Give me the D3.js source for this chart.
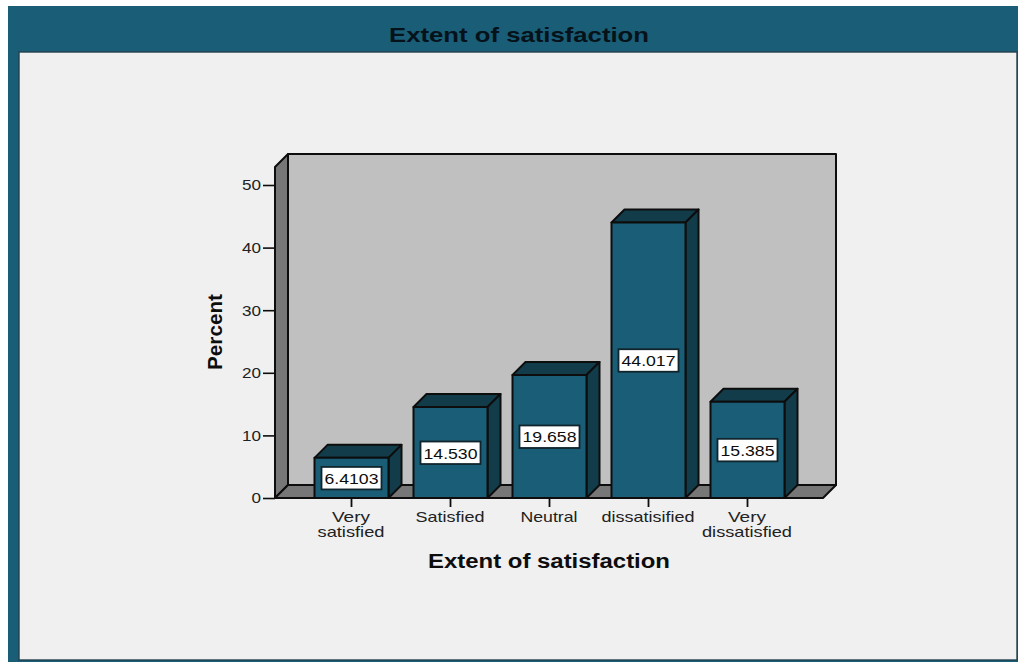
<!DOCTYPE html>
<html>
<head>
<meta charset="utf-8">
<script src="https://cdn.jsdelivr.net/npm/d3@7"></script>
<style>
html,body{margin:0;padding:0;background:#fff}
svg{display:block}
text{font-family:"Liberation Sans",Arial,sans-serif}
</style>
</head>
<body>
<svg id="chart" width="1018" height="662"></svg>
<script>
// Percent of respondents per satisfaction level
const categories = ["Very satisfied", "Satisfied", "Neutral", "dissatisified", "Very dissatisfied"];
const categoryLines = [["Very", "satisfied"], ["Satisfied"], ["Neutral"], ["dissatisified"], ["Very", "dissatisfied"]];
const percents = [6.4103, 14.530, 19.658, 44.017, 15.385];
const valueLabels = ["6.4103", "14.530", "19.658", "44.017", "15.385"];
const yTicks = [0, 10, 20, 30, 40, 50];

const colors = {frame: "#1a5d76", panel: "#f0f0f0", wall: "#c0c0c0", floor: "#777777",
                face: "#1a5d76", side: "#123c4a", ink: "#0d0d0d", label: "#222222"};

const svg = d3.select("#chart");

// Stretched text: set the drawn width explicitly
function fit(sel, w) { return sel.attr("textLength", w).attr("lengthAdjust", "spacingAndGlyphs"); }

// Window frame and inner panel
svg.append("rect").attr("x", 8).attr("y", 6).attr("width", 1010).attr("height", 656).attr("fill", colors.frame);
svg.append("rect").attr("x", 19).attr("y", 52).attr("width", 998).attr("height", 608)
  .attr("fill", colors.panel).attr("stroke", "#22424f").attr("stroke-width", 1.4);
fit(svg.append("text").attr("x", 519).attr("y", 42).attr("text-anchor", "middle")
  .attr("font-size", 20.5).attr("font-weight", "bold").attr("fill", "#06121a").text("Extent of satisfaction"), 260);

// Scales
const x = d3.scaleBand().domain(categories).range([314.5, 784.5]).paddingInner(25 / 99).paddingOuter(0);
const y = d3.scaleLinear().domain([0, 50]).range([498, 185]);

const depth = 13;
const wallLeft = 275, floorRight = 823, wallTop = 167;
const poly = pts => pts.map(p => p.join(",")).join(" ");
const edge = {stroke: colors.ink, "stroke-width": 2, "stroke-linejoin": "round"};
function styled(sel, fill) {
  sel.attr("fill", fill);
  Object.entries(edge).forEach(([k, v]) => sel.attr(k, v));
  return sel;
}

// 3D box walls
const base = y(0);
styled(svg.append("polygon").attr("points", poly([
  [wallLeft + depth, wallTop - depth], [floorRight + depth, wallTop - depth],
  [floorRight + depth, base - depth], [wallLeft + depth, base - depth]])), colors.wall);
styled(svg.append("polygon").attr("points", poly([
  [wallLeft, wallTop], [wallLeft + depth, wallTop - depth],
  [wallLeft + depth, base - depth], [wallLeft, base]])), colors.floor);
styled(svg.append("polygon").attr("points", poly([
  [wallLeft, base], [wallLeft + depth, base - depth],
  [floorRight + depth, base - depth], [floorRight, base]])), colors.floor);

// Value axis
const yAxis = d3.axisLeft(y).tickValues(yTicks).tickSize(12).tickPadding(2).tickFormat(d3.format("d"));
const gy = svg.append("g").attr("transform", `translate(${wallLeft},0)`).call(yAxis);
gy.select(".domain").remove();
gy.selectAll(".tick line").attr("stroke", colors.ink).attr("stroke-width", 1.6);
gy.selectAll(".tick text").attr("font-size", 15).attr("fill", colors.label)
  .attr("font-family", '"Liberation Sans",Arial,sans-serif').each(function () {
    const s = d3.select(this);
    fit(s, s.text().length === 1 ? 9.5 : 19);
  });

// Category axis
const xAxis = d3.axisBottom(x).tickSize(9).tickFormat("");
const gx = svg.append("g").attr("transform", `translate(0,${base})`).call(xAxis);
gx.select(".domain").remove();
gx.selectAll(".tick line").attr("stroke", colors.ink).attr("stroke-width", 1.8);

const lineWidths = {"Very": 38, "satisfied": 67, "Satisfied": 69, "Neutral": 57, "dissatisified": 93, "dissatisfied": 90};
categories.forEach((c, i) => {
  categoryLines[i].forEach((line, j) => {
    fit(svg.append("text").attr("x", x(c) + x.bandwidth() / 2 - 0.5).attr("y", 522 + j * 15)
      .attr("text-anchor", "middle").attr("font-size", 14.5).attr("fill", colors.label).text(line), lineWidths[line]);
  });
});

// Bars
const bars = svg.append("g").selectAll("g").data(categories).join("g");
bars.each(function (c, i) {
  const g = d3.select(this);
  const x0 = x(c), x1 = x0 + x.bandwidth(), top = y(percents[i]);
  styled(g.append("polygon").attr("points", poly([
    [x0, top], [x0 + depth, top - depth], [x1 + depth, top - depth], [x1, top]])), colors.side);
  styled(g.append("polygon").attr("points", poly([
    [x1, top], [x1 + depth, top - depth], [x1 + depth, base - depth], [x1, base]])), colors.side);
  styled(g.append("rect").attr("x", x0).attr("y", top).attr("width", x1 - x0).attr("height", base - top), colors.face);

  // Value box centred on the bar face
  const cx = (x0 + x1) / 2, cy = (top + base) / 2;
  g.append("rect").attr("x", cx - 30).attr("y", cy - 11).attr("width", 60).attr("height", 22.5)
    .attr("fill", "#ffffff").attr("stroke", "#10242c").attr("stroke-width", 1.8);
  fit(g.append("text").attr("x", cx).attr("y", cy + 6).attr("text-anchor", "middle")
    .attr("font-size", 15.5).attr("fill", colors.ink).text(valueLabels[i]), 54);
});

// Axis titles
fit(svg.append("text").attr("x", 549).attr("y", 568).attr("text-anchor", "middle")
  .attr("font-size", 20).attr("font-weight", "bold").attr("fill", colors.ink).text("Extent of satisfaction"), 242);
fit(svg.append("text").attr("transform", "translate(222,332) rotate(-90)").attr("text-anchor", "middle")
  .attr("font-size", 21).attr("font-weight", "bold").attr("fill", colors.ink).text("Percent"), 76);
</script>
</body>
</html>
